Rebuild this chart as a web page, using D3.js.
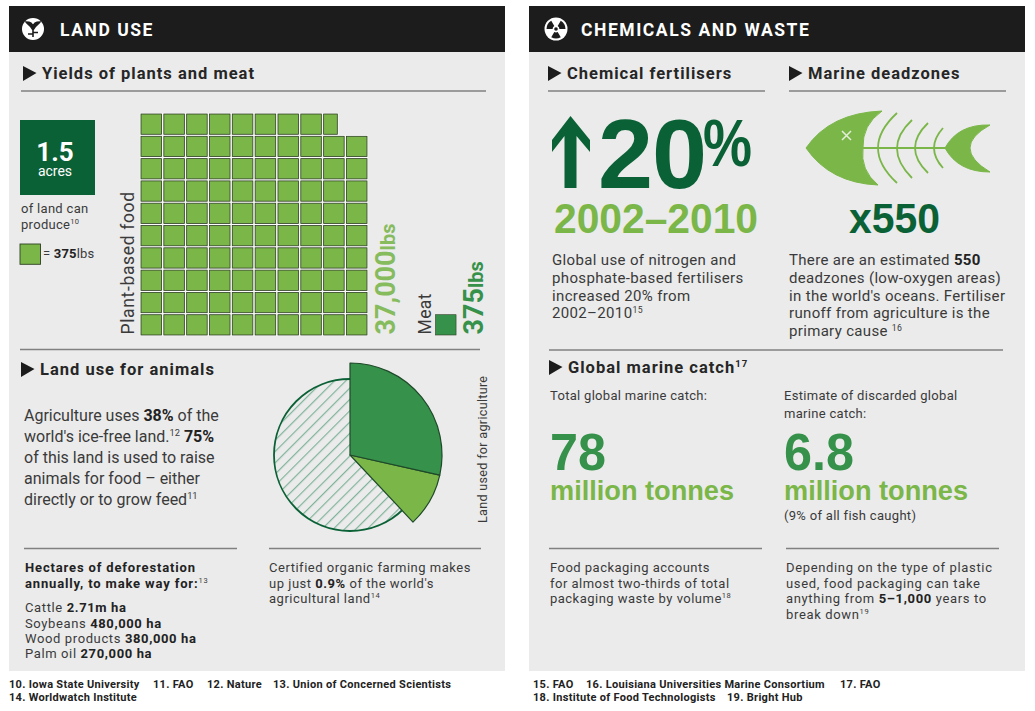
<!DOCTYPE html>
<html>
<head>
<meta charset="utf-8">
<script src="https://cdnjs.cloudflare.com/ajax/libs/d3/7.8.5/d3.min.js"></script>
<style>
  body { margin: 0; background: #fff; }
  text { font-family: Roboto, "Liberation Sans", sans-serif; fill: #3a3a3a; }
</style>
</head>
<body>
<div id="chart"></div>
<script>
// Yields: one square = 375 lbs
const plantYield = 37000;
const meatYield = 375;
const lbsPerSquare = 375;
const squaresPerRow = 10;
const gridRowCount = 10;

// Land use, percent of ice-free land
const agricultureShare = 38;
const animalShareOfAgriculture = 75;
const pieNames = ["Animals", "Other agriculture", "Rest of land"];

// Text
const agricultureLines = ["Agriculture uses **38%** of the", "world's ice-free land.^12 **75%**", "of this land is used to raise", "animals for food – either", "directly or to grow feed^11"];
const deforestHead = ["**Hectares of deforestation**", "**annually, to make way for:**^13"];
const deforestLines = ["Cattle **2.71m ha**", "Soybeans **480,000 ha**", "Wood products **380,000 ha**", "Palm oil **270,000 ha**"];
const organicLines = ["Certified organic farming makes", "up just **0.9%** of the world's", "agricultural land^14"];
const fertiliserLines = ["Global use of nitrogen and", "phosphate-based fertilisers", "increased 20% from", "2002–2010^15"];
const deadzoneLines = ["There are an estimated **550**", "deadzones (low-oxygen areas)", "in the world's oceans. Fertiliser", "runoff from agriculture is the", "primary cause ^16"];
const estimateLines = ["Estimate of discarded global", "marine catch:"];
const foodLines = ["Food packaging accounts", "for almost two-thirds of total", "packaging waste by volume^18"];
const plasticLines = ["Depending on the type of plastic", "used, food packaging can take", "anything from **5–1,000** years to", "break down^19"];

const dark = "#0b6136", mid = "#36914a", light = "#7ab648", ink = "#1c1c1c", rule = "#808080";
const bigFont = '"Liberation Sans", sans-serif';

const svg = d3.select("#chart").append("svg")
  .attr("width", 1035)
  .attr("height", 711)
  .style("display", "block");

const defs = svg.append("defs");
defs.append("pattern")
  .attr("id", "hatch")
  .attr("patternUnits", "userSpaceOnUse")
  .attr("width", 8)
  .attr("height", 8)
  .attr("patternTransform", "rotate(45)")
  .append("rect")
  .attr("width", 1.2)
  .attr("height", 8)
  .attr("fill", "#7fb39a");

// Writes a line with **bold** and ^superscript parts as tspans
function rich(x, y, str, size, spacing) {
  const t = svg.append("text")
    .attr("x", x)
    .attr("y", y)
    .attr("font-size", size)
    .attr("letter-spacing", spacing || 0);
  const re = /\*\*(.+?)\*\*|\^(\S+)|([^*^]+)/g;
  let m, back = 0;
  while ((m = re.exec(str))) {
    const s = t.append("tspan");
    if (back) { s.attr("dy", back); back = 0; }
    if (m[1]) s.attr("font-weight", 700).style("fill", "#222").text(m[1]);
    else if (m[2]) {
      s.attr("dy", -size * 0.35).attr("font-size", size * 0.58).text(m[2]);
      back = size * 0.35;
    }
    else s.text(m[3]);
  }
  return t;
}

function block(x, ys, lines, size, spacing) {
  lines.forEach((line, i) => rich(x, ys[i], line, size, spacing));
}

function hrule(x1, x2, y) {
  svg.append("line")
    .attr("x1", x1).attr("x2", x2).attr("y1", y).attr("y2", y)
    .attr("stroke", rule)
    .attr("stroke-width", 1.4);
}

function sectionHead(x, y, label) {
  svg.append("path")
    .attr("d", `M${x},${y - 13}L${x + 13.5},${y - 6}L${x},${y + 2}Z`)
    .attr("fill", ink);
  rich(x + 19, y, label, 16.5, 1).attr("font-weight", 700).style("fill", "#262626");
}

function vertical(x, y, size, color, weight) {
  return svg.append("text")
    .attr("transform", `translate(${x},${y}) rotate(-90)`)
    .attr("font-size", size)
    .attr("font-weight", weight || 400)
    .style("fill", color);
}

function bigText(x, y, size, color, length, label) {
  const t = svg.append("text")
    .attr("x", x).attr("y", y)
    .attr("font-size", size)
    .attr("font-weight", 700)
    .style("font-family", bigFont)
    .style("fill", color)
    .text(label);
  if (length) t.attr("textLength", length).attr("lengthAdjust", "spacingAndGlyphs");
  return t;
}

// Panels
[[9, 496, "LAND USE", 60], [529, 496, "CHEMICALS AND WASTE", 581]].forEach(([x, w, title, tx]) => {
  svg.append("rect").attr("x", x).attr("y", 52).attr("width", w).attr("height", 619).attr("fill", "#ebebeb");
  svg.append("rect").attr("x", x).attr("y", 6).attr("width", w).attr("height", 46).attr("fill", ink);
  svg.append("text")
    .attr("x", tx).attr("y", 36)
    .attr("font-size", 17.5)
    .attr("font-weight", 700)
    .attr("letter-spacing", 1.55)
    .style("fill", "#fff")
    .text(title);
});

// Header icons
const leafIcon = svg.append("g").attr("transform", "translate(33,29)");
leafIcon.append("circle").attr("r", 11).attr("fill", "#fff");
leafIcon.append("path")
  .attr("d", "M0,8V-1M0,1C-2,-4 -6,-5 -7,-7C-3,-7 0,-6 0,-1M0,1C2,-4 6,-5 7,-7C3,-7 0,-6 0,-1M-5,5H0M0,3.5H5")
  .attr("fill", ink)
  .attr("stroke", ink)
  .attr("stroke-width", 1.6);

const hazardIcon = svg.append("g").attr("transform", "translate(556,29)");
hazardIcon.append("circle").attr("r", 11.5).attr("fill", "#fff");
[0, 120, 240].forEach(a => {
  hazardIcon.append("path")
    .attr("d", d3.arc()({
      innerRadius: 3.4,
      outerRadius: 9.5,
      startAngle: (a + 30) * Math.PI / 180,
      endAngle: (a + 90) * Math.PI / 180
    }))
    .attr("fill", ink);
});
hazardIcon.append("circle").attr("r", 1.8).attr("fill", ink);

// Section heads and rules
sectionHead(23, 79, "Yields of plants and meat");
sectionHead(21, 375, "Land use for animals");
sectionHead(548, 79, "Chemical fertilisers");
sectionHead(789, 79, "Marine deadzones");
sectionHead(549, 373, "Global marine catch^17");

hrule(21, 486, 91);
hrule(20, 480, 349.5);
hrule(24, 237, 548.5);
hrule(269, 481, 548.5);
hrule(548, 765, 91);
hrule(789, 1006, 91);
hrule(549, 1003, 350);
hrule(549, 762, 548.5);
hrule(786, 999, 548.5);

// Square grid, filled from the bottom up; the last square is only part full
const squareCount = plantYield / lbsPerSquare;
const squares = d3.range(Math.ceil(squareCount)).map(i => ({
  col: i % squaresPerRow,
  row: Math.floor(i / squaresPerRow),
  fill: Math.min(1, squareCount - i)
}));

const xGrid = d3.scaleBand().domain(d3.range(squaresPerRow)).range([141, 367]).paddingInner(0.1);
const yGrid = d3.scaleBand().domain(d3.range(gridRowCount)).range([335, 114]).paddingInner(0.09);

// white halo goes under every square first
svg.selectAll(".halo")
  .data(squares)
  .enter()
  .append("rect")
  .attr("class", "halo")
  .attr("x", d => xGrid(d.col))
  .attr("y", d => yGrid(d.row))
  .attr("width", d => xGrid.bandwidth() * d.fill)
  .attr("height", yGrid.bandwidth())
  .attr("fill", "none")
  .attr("stroke", "#fff")
  .attr("stroke-width", 2.2);

svg.selectAll(".square")
  .data(squares)
  .enter()
  .append("rect")
  .attr("class", "square")
  .attr("x", d => xGrid(d.col))
  .attr("y", d => yGrid(d.row))
  .attr("width", d => xGrid.bandwidth() * d.fill)
  .attr("height", yGrid.bandwidth())
  .attr("fill", light)
  .attr("stroke", "#2f3f24")
  .attr("stroke-width", 0.8);

// Meat square and legend square use the same unit
svg.selectAll(".meat")
  .data(d3.range(meatYield / lbsPerSquare))
  .enter()
  .append("rect")
  .attr("class", "meat")
  .attr("x", 435.5)
  .attr("y", yGrid(0))
  .attr("width", xGrid.bandwidth())
  .attr("height", yGrid.bandwidth())
  .attr("fill", mid)
  .attr("stroke", "#2f3f24")
  .attr("stroke-width", 0.6);

svg.append("rect")
  .attr("x", 20).attr("y", 244)
  .attr("width", xGrid.bandwidth())
  .attr("height", yGrid.bandwidth())
  .attr("fill", light)
  .attr("stroke", "#2f3f24")
  .attr("stroke-width", 0.9);

// Yield labels
vertical(134, 334.5, 17.5, "#3a3a3a").attr("letter-spacing", 0.65).text("Plant-based food");
const plantLabel = vertical(395, 334.5, 27, "#86bb5e", 700);
plantLabel.append("tspan").text(d3.format(",")(plantYield));
plantLabel.append("tspan").attr("font-size", 20).text("lbs");
vertical(431, 334.5, 17.5, "#3a3a3a").attr("letter-spacing", 0.4).text("Meat");
const meatLabel = vertical(483, 334.5, 27, mid, 700);
meatLabel.append("tspan").text(meatYield);
meatLabel.append("tspan").attr("font-size", 20).text("lbs");

// Acres box
svg.append("rect").attr("x", 20).attr("y", 120).attr("width", 75).attr("height", 75).attr("fill", dark);
svg.append("text").attr("x", 55).attr("y", 161).attr("text-anchor", "middle")
  .attr("font-size", 26).attr("font-weight", 700).style("fill", "#fff").text("1.5");
svg.append("text").attr("x", 55).attr("y", 176).attr("text-anchor", "middle")
  .attr("font-size", 14).style("fill", "#fff").text("acres");
block(21, [213, 229], ["of land can", "produce^10"], 13, 0.3);
rich(43, 258, "= **375**lbs", 13, 0.2);

// Pie: the two agriculture wedges stick out from the base circle
const animalShare = agricultureShare * animalShareOfAgriculture / 100;
const pieValues = [animalShare, agricultureShare - animalShare, 100 - agricultureShare];
const pieGen = d3.pie().sort(null);
const radius = d3.scaleOrdinal().domain(pieNames).range([92, 92, 76]);
const pieColor = d3.scaleOrdinal().domain(pieNames).range([mid, light, "url(#hatch)"]);
const pieG = svg.append("g").attr("transform", "translate(350,455)");

pieG.append("circle").attr("r", 76).attr("fill", "url(#hatch)").attr("stroke", dark).attr("stroke-width", 1.8);
pieG.selectAll("path")
  .data(pieGen(pieValues).slice(0, 2).reverse())
  .enter()
  .append("path")
  .attr("d", d => d3.arc().innerRadius(0).outerRadius(radius(pieNames[d.index]))(d))
  .attr("fill", d => pieColor(pieNames[d.index]))
  .attr("stroke", "#1f4a2a")
  .attr("stroke-width", 1.2)
  .attr("stroke-linejoin", "round");

vertical(487, 523, 12.6, "#3a3a3a").attr("letter-spacing", 0.3).text("Land used for agriculture");

// Left panel text
block(24, [421, 442, 463, 484, 505], agricultureLines, 16, 0);
block(25, [572, 587.5], deforestHead, 13, 0.85);
block(25, [612, 627.5, 643, 658], deforestLines, 13, 0.62);
block(269, [572, 588, 603], organicLines, 13, 0.52);

// Big fertiliser numbers
svg.append("path")
  .attr("d", "M570.5,116L590,140L590,152L576.5,136L576.5,188L564.5,188L564.5,136L552,152L552,140Z")
  .attr("fill", dark);
bigText(598, 188, 99, dark, 0, "20").attr("letter-spacing", -1);
bigText(703, 166, 66, dark, 49, "%");
bigText(554, 233, 43, light, 204, "2002–2010");

// Fish
const fish = svg.append("g");
fish.append("path")
  .attr("d", "M806,148Q830,113 882,111Q862,125 863,148Q860,170 878,185Q830,183 806,148ZM945,148Q958,124 990,125Q970,136 970,148Q970,160 990,172Q958,172 945,148Z")
  .attr("fill", light)
  .attr("stroke", light)
  .attr("stroke-linejoin", "round");
fish.append("path")
  .attr("d", "M863,148H946M897,113Q859,148 897,183M912,120Q882,148 912,178M928,123Q902,148 928,173M943,128Q925,148 943,168")
  .attr("fill", "none")
  .attr("stroke", light)
  .attr("stroke-width", 1.8);
fish.append("path")
  .attr("d", "M842,131L851,140M851,131L842,140")
  .attr("stroke", "#e4efd9")
  .attr("stroke-width", 1.5);

bigText(849, 233, 43, dark, 91, "x550");

block(552, [265, 283, 301, 318], fertiliserLines, 15, 0.35);
block(789, [265, 283, 301, 318, 336], deadzoneLines, 15, 0.33);

// Marine catch
rich(550, 400, "Total global marine catch:", 13, 0.3);
block(784, [400, 418], estimateLines, 13, 0.3);
[[550, "78", 56], [784, "6.8", 70]].forEach(([x, label, w]) => {
  bigText(x, 470, 52, mid, w, label);
  bigText(x, 500, 28, light, 184, "million tonnes");
});
rich(784, 520, "(9% of all fish caught)", 13, 0.3);
block(550, [572, 588, 603], foodLines, 13, 0.48);
block(786, [572, 588, 603, 619], plasticLines, 13, 0.65);

// Sources
const sourceLabels = [
  [9, 688, "10. Iowa State University"], [153, 688, "11. FAO"], [207, 688, "12. Nature"], [273, 688, "13. Union of Concerned Scientists"],
  [9, 701, "14. Worldwatch Institute"],
  [533, 688, "15. FAO"], [586, 688, "16. Louisiana Universities Marine Consortium"], [840, 688, "17. FAO"],
  [533, 701, "18. Institute of Food Technologists"], [727, 701, "19. Bright Hub"]
];
sourceLabels.forEach(([x, y, label]) => {
  svg.append("text").attr("x", x).attr("y", y)
    .attr("font-size", 11).attr("font-weight", 700).attr("letter-spacing", 0.3)
    .style("fill", "#222").text(label);
});
</script>
</body>
</html>
